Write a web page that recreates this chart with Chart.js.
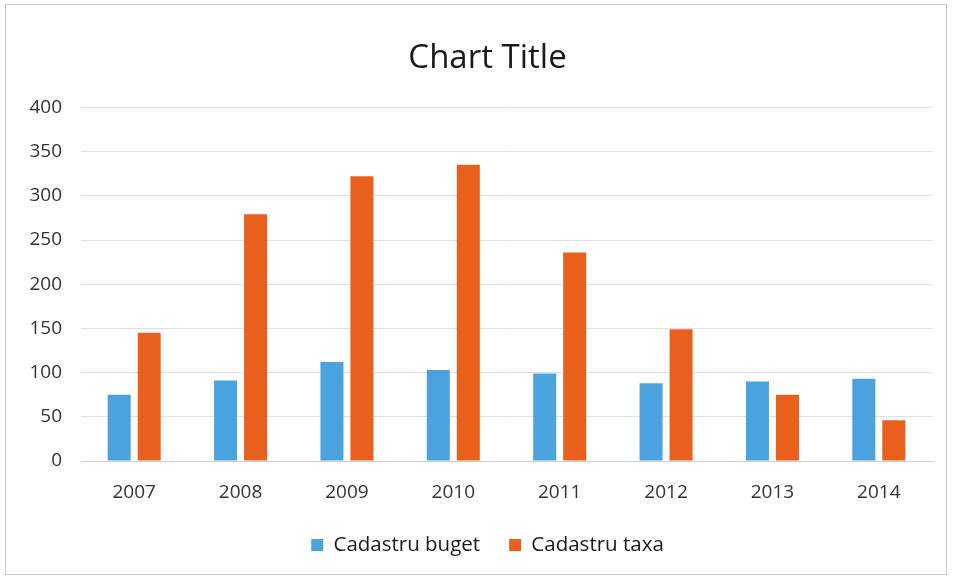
<!DOCTYPE html>
<html>
<head>
<meta charset="utf-8">
<script src="https://cdn.jsdelivr.net/npm/chart.js@4/dist/chart.umd.min.js"></script>
<style>
  html, body { margin: 0; padding: 0; background: #ffffff; }
  #wrap { position: relative; width: 953px; height: 580px; }
  #frame { position: absolute; left: 5px; top: 4px; width: 942px; height: 571px; border: 1px solid #c8c8c8; box-sizing: border-box; pointer-events: none; }
  canvas { position: absolute; left: 0; top: 0; }
</style>
</head>
<body>
<div id="wrap">
  <canvas id="c" width="953" height="580"></canvas>
  <div id="frame"></div>
</div>
<script>
const years = ['2007', '2008', '2009', '2010', '2011', '2012', '2013', '2014'];
const buget = [75, 91, 112, 103, 99, 88, 90, 93];
const taxa = [145, 279, 322, 335, 236, 149, 75, 46];
const yTicks = [0, 50, 100, 150, 200, 250, 300, 350, 400];

const FONT = "'Open Sans', 'Liberation Sans', sans-serif";

new Chart(document.getElementById('c'), {
  type: 'bar',
  data: {
    labels: years,
    datasets: [
      { label: 'Cadastru buget', data: buget, backgroundColor: '#4aa3df', borderWidth: 0,
        categoryPercentage: 0.564, barPercentage: 0.767 },
      { label: 'Cadastru taxa', data: taxa, backgroundColor: '#e8601c', borderWidth: 0,
        categoryPercentage: 0.564, barPercentage: 0.767 }
    ]
  },
  options: {
    responsive: false,
    animation: false,
    devicePixelRatio: 1,
    layout: { padding: { left: 22, right: 0, top: 0, bottom: 14.75 } },
    plugins: {
      title: {
        display: true, text: 'Chart Title', color: '#1a1a1a',
        font: { family: FONT, size: 33, weight: 'normal' },
        padding: { top: 38.5, bottom: 29.3 }
      },
      legend: {
        display: true, position: 'bottom',
        labels: {
          color: '#1a1a1a', font: { family: FONT, size: 20.5 },
          boxWidth: 12, boxHeight: 12, padding: 29
        }
      },
      tooltip: { enabled: false }
    },
    scales: {
      x: {
        grid: { display: false, drawTicks: false },
        border: { display: true, color: '#d0d0d0', width: 1 },
        ticks: { color: '#333333', font: { family: FONT, size: 19 }, padding: 20 },
        afterFit: (s) => { s.height = 44.75; }
      },
      y: {
        min: 0, max: 400,
        afterBuildTicks: (axis) => { axis.ticks = yTicks.map(v => ({ value: v })); },
        grid: { color: '#e0e0e0', drawTicks: false, lineWidth: 1 },
        border: { display: false },
        ticks: { color: '#333333', font: { family: FONT, size: 19 }, padding: 19 },
        afterFit: (s) => { s.width = 59; }
      },
      yRight: {
        position: 'right', display: true,
        grid: { display: false, drawTicks: false },
        border: { display: false },
        ticks: { display: false },
        afterFit: (s) => { s.width = 21; }
      }
    }
  }
});
</script>
</body>
</html>
